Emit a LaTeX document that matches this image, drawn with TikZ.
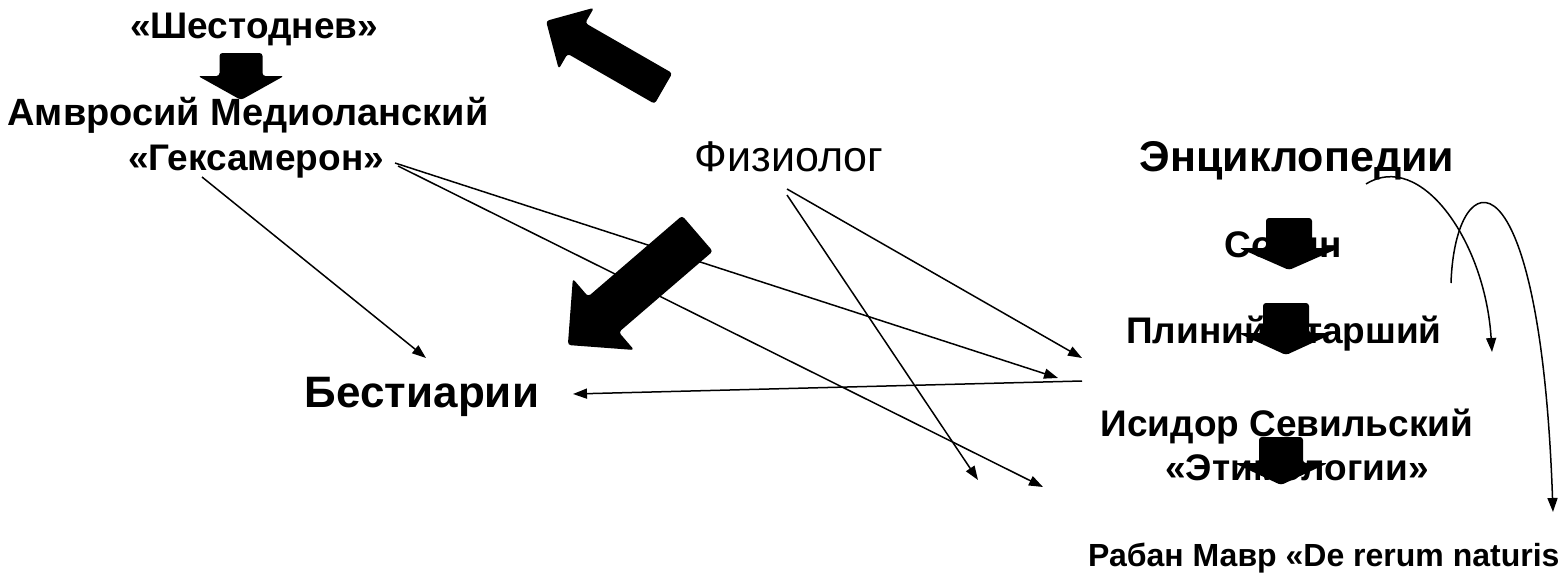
\documentclass[tikz,border=0pt]{standalone}
\usepackage{fontspec}
\setmainfont{Liberation Sans}
\usetikzlibrary{arrows.meta}
\newcommand\myblockarrow[6]{% #1 tail centre, #2 angle, #3 length, #4 shaft width, #5 head width, #6 head length
  \fill[blockarrow, shift={(#1)}, rotate=#2]
    (0,{-#4/2}) -- ({#3-#6},{-#4/2}) -- ({#3-#6},{-#5/2}) -- (#3,0)
    -- ({#3-#6},{#5/2}) -- ({#3-#6},{#4/2}) -- (0,{#4/2}) -- cycle;}
\begin{document}
\begin{tikzpicture}[x=1pt,y=-1pt,
  lbl/.style={inner sep=0pt, anchor=base, font=\fontsize{37}{44}\selectfont\bfseries},
  lblreg/.style={inner sep=0pt, anchor=base, font=\fontsize{43}{50}\selectfont},
  lblbig/.style={inner sep=0pt, anchor=base, font=\fontsize{43}{50}\selectfont\bfseries},
  conn/.style={line width=1.5pt, -{Triangle[length=14pt,width=10pt]}},
  curv/.style={line width=1.5pt, -{Triangle[length=14pt,width=10pt]}},
  blockarrow/.style={fill=black, rounded corners=3pt}]
\useasboundingbox (0,0) rectangle (1559,576);

% texts
\node[lbl] (shest) at (254,38) {«Шестоднев»};
\node[lbl, font=\fontsize{38}{44}\selectfont\bfseries] (amv) at (248,125) {Амвросий Медиоланский};
\node[lbl] (geks) at (256,170) {«Гексамерон»};
\node[lblreg] (fiz) at (789,171) {Физиолог};
\node[lblbig] (enc) at (1297,171) {Энциклопедии};
\node[lbl] (solin) at (1283,257) {Солин};
\node[lbl] (plin) at (1284,343) {Плиний Старший};
\node[lblbig, font=\fontsize{44}{50}\selectfont\bfseries] (best) at (422,407) {Бестиарии};
\node[lbl] (isid) at (1287,436) {Исидор Севильский};
\node[lbl] (etim) at (1297,480) {«Этимологии»};
\node[lbl, anchor=base west, font=\fontsize{32}{40}\selectfont\bfseries] (raban) at (1088,566) {Рабан Мавр «De rerum naturis»};

% connector end points
\coordinate (g1) at (202,177);
\coordinate (g2) at (395,163);
\coordinate (g3) at (398,166);
\coordinate (f1) at (787,189);
\coordinate (f2) at (787,195);
\coordinate (b1) at (426,358);
\coordinate (b2) at (573,394);
\coordinate (e1) at (1058,378);
\coordinate (e2) at (1043,487);
\coordinate (e3) at (1082,358);
\coordinate (e4) at (978,480);
\coordinate (r1) at (1082,381);
\coordinate (c1) at (1366,184);
\coordinate (c2) at (1492,352);
\coordinate (c3) at (1451,283);
\coordinate (c4) at (1553,512);

\draw[conn] (g1) -- (b1);
\draw[conn] (g2) -- (e1);
\draw[conn] (g3) -- (e2);
\draw[conn] (f1) -- (e3);
\draw[conn] (f2) -- (e4);
\draw[conn] (r1) -- (b2);
\draw[curv] (c1) .. controls (1420,150) and (1485,240) .. (c2);
\draw[curv] (c3) .. controls (1455,160) and (1540,140) .. (c4);

% block arrows
\myblockarrow{663.5,88.5}{150.1}{135.5}{35.4}{70.7}{35}
\myblockarrow{697.5,233.5}{220.7}{171}{47}{94}{47}
\myblockarrow{241,53}{270}{47}{43}{86}{24}
\myblockarrow{1289,218}{270}{52}{46}{100}{22}
\myblockarrow{1286,303}{270}{52}{46}{96}{22}
\myblockarrow{1281,437}{270}{48}{44}{94}{22}
\end{tikzpicture}
\end{document}
